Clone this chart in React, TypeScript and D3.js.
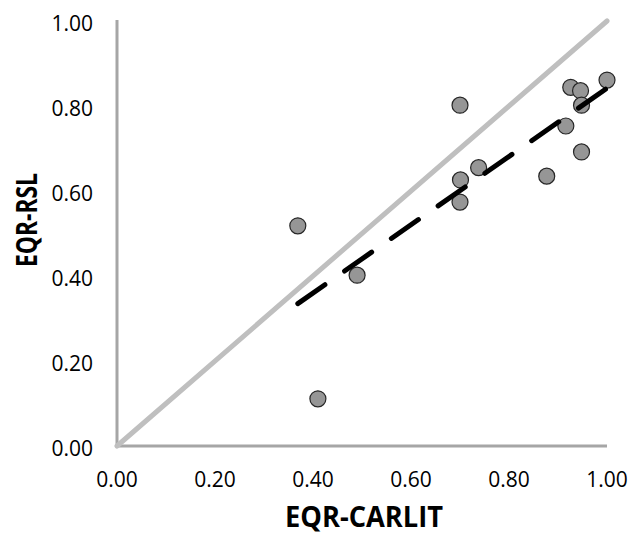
import React from "react";
import * as d3 from "d3";

// EQR values per site: CARLIT index (x) vs RSL index (y)
const eqrCarlit = [0.369, 0.41, 0.49, 0.7, 0.738, 0.701, 0.7, 0.926, 0.946, 1.0, 0.948, 0.916, 0.948, 0.877];
const eqrRsl = [0.518, 0.111, 0.402, 0.802, 0.655, 0.626, 0.574, 0.844, 0.836, 0.861, 0.802, 0.753, 0.692, 0.635];
const tickValues = [0, 0.2, 0.4, 0.6, 0.8, 1.0];

const W = 629;
const H = 535;
const FONT = "'Open Sans', 'DejaVu Sans', sans-serif";

export default function App() {
  const x = d3.scaleLinear().domain([0, 1]).range([117, 607]);
  const y = d3.scaleLinear().domain([0, 1]).range([446, 21]);
  const fmt = d3.format(".2f");

  // least-squares fit
  const mx = d3.mean(eqrCarlit) as number;
  const my = d3.mean(eqrRsl) as number;
  let sxy = 0;
  let sxx = 0;
  eqrCarlit.forEach((v, i) => {
    sxy += (v - mx) * (eqrRsl[i] - my);
    sxx += (v - mx) * (v - mx);
  });
  const slope = sxy / sxx;
  const intercept = my - slope * mx;
  const [x0, x1] = d3.extent(eqrCarlit) as [number, number];
  const line = d3
    .line<number>()
    .x((d) => x(d))
    .y((d) => y(intercept + slope * d));

  const identity = d3
    .line<number>()
    .x((d) => x(d))
    .y((d) => y(d));

  return (
    <svg
      width={W}
      height={H}
      style={{ position: "absolute", left: 0, top: 0, background: "#fff" }}
      fontFamily={FONT}
    >
      {/* axes */}
      <line x1={x(0)} x2={x(1)} y1={y(0)} y2={y(0)} stroke="#a6a6a6" strokeWidth={3} />
      <line x1={x(0)} x2={x(0)} y1={y(0)} y2={y(1) - 1} stroke="#a6a6a6" strokeWidth={3} />

      {/* 1:1 reference */}
      <path d={identity([0, 1]) as string} fill="none" stroke="#bfbfbf" strokeWidth={5} strokeLinecap="round" />

      {/* tick labels */}
      {tickValues.map((t) => (
        <text key={"y" + t} x={93} y={y(t) + 10} textAnchor="end" fontSize={21} fill="#000">
          {fmt(t)}
        </text>
      ))}
      {tickValues.map((t) => (
        <text key={"x" + t} x={x(t)} y={487} textAnchor="middle" fontSize={21} fill="#000">
          {fmt(t)}
        </text>
      ))}

      {/* points */}
      {eqrCarlit.map((v, i) => (
        <circle key={i} cx={x(v)} cy={y(eqrRsl[i])} r={8} fill="#969696" stroke="#262626" strokeWidth={1.2} />
      ))}

      {/* regression line */}
      <path
        d={line([x0, x1]) as string}
        fill="none"
        stroke="#000"
        strokeWidth={5}
        strokeLinecap="round"
        strokeDasharray="33 24"
      />

      {/* axis titles */}
      <text x={364} y={527} textAnchor="middle" fontSize={29} fontWeight="bold" textLength={158} lengthAdjust="spacingAndGlyphs">
        EQR-CARLIT
      </text>
      <text
        transform="translate(37,220) rotate(-90)"
        textAnchor="middle"
        fontSize={29}
        fontWeight="bold"
        textLength={94}
        lengthAdjust="spacingAndGlyphs"
      >
        EQR-RSL
      </text>
    </svg>
  );
}
